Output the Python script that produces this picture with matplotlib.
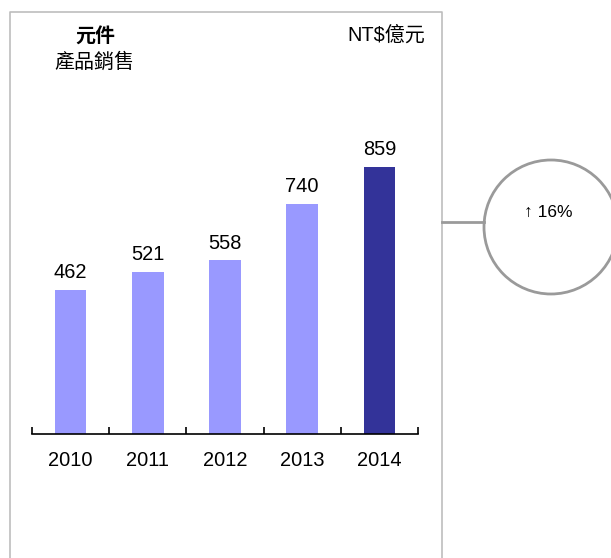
import matplotlib
matplotlib.use("Agg")
import matplotlib.pyplot as plt
from matplotlib.patches import Circle

plt.rcParams['font.family'] = ['Liberation Sans', 'Noto Sans CJK TC', 'DejaVu Sans']

# Data
years = ["2010", "2011", "2012", "2013", "2014"]
sales = [462, 521, 558, 740, 859]
bar_colors = ["#9999FF", "#9999FF", "#9999FF", "#9999FF", "#333399"]
title_main = "元件"
title_sub = "產品銷售"
unit_label = "NT$億元"
growth_label = "↑ 16%"

W, H = 611, 558
DPI = 100
fig = plt.figure(figsize=(W / DPI, H / DPI), dpi=DPI)

# overlay in pixel coordinates for the frame / callout
ov = fig.add_axes([0, 0, 1, 1])
ov.set_xlim(0, W)
ov.set_ylim(H, 0)
ov.axis("off")
ov.plot([9.5, 9.5, 441.5, 441.5], [H + 5, 11.5, 11.5, H + 5], color="#BDBDBD", lw=1.2, clip_on=False)
ov.plot([441.5, 484], [222, 222], color="#9A9A9A", lw=2)
ov.add_patch(Circle((551, 227), 67, facecolor="white", edgecolor="#9A9A9A", lw=2, clip_on=False))
ov.text(548, 212, growth_label, ha="center", va="center", fontsize=12.5)
ov.text(95, 37.5, title_main, ha="center", va="center", fontsize=14.4, fontweight="bold")
ov.text(94.5, 62, title_sub, ha="center", va="center", fontsize=14.4)
ov.text(425, 35, unit_label, ha="right", va="center", fontsize=14.4)

# bar axes: baseline at y=434 px, x from 32 to 418 px
ax_left, ax_right = 32, 418
base_y, top_y = 434, 121
ax = fig.add_axes([ax_left / W, (H - base_y) / H, (ax_right - ax_left) / W, (base_y - top_y) / H])
ax.patch.set_alpha(0)
x = list(range(len(years)))
ax.bar(x, sales, width=0.41, color=bar_colors, zorder=1)
ax.set_xlim(-0.5, len(years) - 0.5)
ax.set_ylim(0, 1006)
for s in ["top", "right", "left"]:
    ax.spines[s].set_visible(False)
ax.spines["bottom"].set_linewidth(1.2)
ax.spines["bottom"].set_zorder(3)
ax.set_yticks([])
ax.set_xticks(x, years, fontsize=14.4)
ax.tick_params(axis="x", length=0, pad=12.5)
ax.set_xticks([i - 0.5 for i in range(len(years) + 1)], minor=True)
ax.tick_params(axis="x", which="minor", direction="in", length=5, width=1.2)

for xi, v in zip(x, sales):
    ax.annotate(str(v), (xi, v), xytext=(0, 8.5), textcoords="offset points",
                ha="center", va="baseline", fontsize=14.4)

fig.savefig("out.png", dpi=DPI)
